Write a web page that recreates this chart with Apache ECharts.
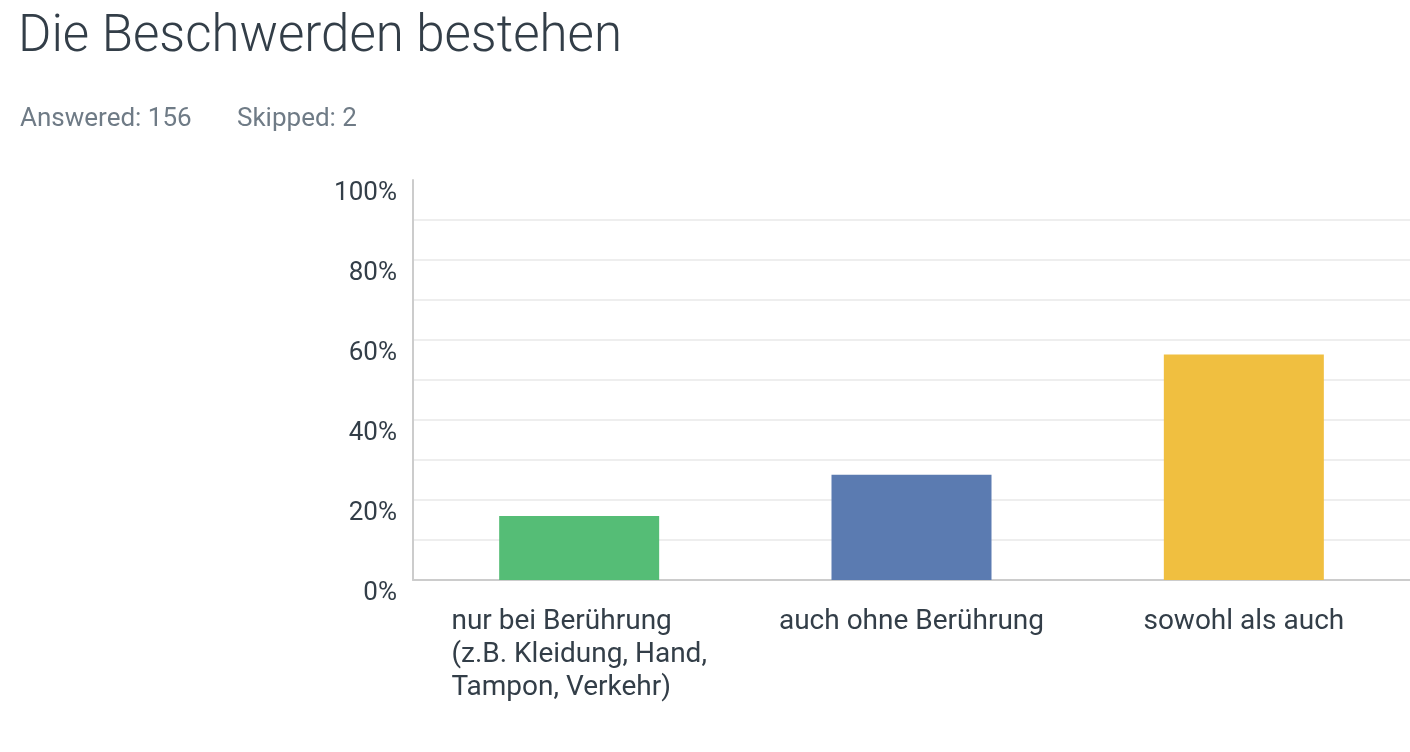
<!DOCTYPE html>
<html>
<head>
<meta charset="utf-8">
<title>Die Beschwerden bestehen</title>
<script src="https://cdn.jsdelivr.net/npm/echarts@6/dist/echarts.min.js"></script>
<style>
  html, body { margin: 0; padding: 0; background: #fff; }
  #chart { width: 1410px; height: 752px; }
</style>
</head>
<body>
<div id="chart"></div>
<script>
// Antwortkategorien und Anteile in %
var categories = [
    'nur bei Berührung\n(z.B. Kleidung, Hand,\nTampon, Verkehr)',
    'auch ohne Berührung',
    'sowohl als auch'
];
var percents = [16.0, 26.3, 56.4];
var barColors = ['#55bd76', '#5b7bb1', '#f0bf40'];
var yTicks = [0, 20, 40, 60, 80, 100];

var textColor = '#333e48';
var font = 'Roboto';

var chart = echarts.init(document.getElementById('chart'));

var option = {
    backgroundColor: '#fff',
    animation: false,
    title: [
        {
            text: 'Die Beschwerden bestehen',
            left: 13,
            top: 8,
            textStyle: {
                fontFamily: font,
                fontWeight: 300,
                fontSize: 51,
                color: textColor
            }
        },
        {
            text: 'Answered: 156',
            left: 15,
            top: 101,
            textStyle: {
                fontFamily: font,
                fontWeight: 'normal',
                fontSize: 26,
                color: '#6f7b86'
            }
        },
        {
            text: 'Skipped: 2',
            left: 232,
            top: 101,
            textStyle: {
                fontFamily: font,
                fontWeight: 'normal',
                fontSize: 26,
                color: '#6f7b86'
            }
        }
    ],
    grid: {
        left: 413,
        right: 0,
        top: 180,
        bottom: 172
    },
    xAxis: {
        type: 'category',
        data: categories,
        axisLine: { lineStyle: { color: '#cccccc', width: 2 } },
        axisTick: { show: false },
        axisLabel: {
            margin: 25,
            interval: 0,
            formatter: function (val) {
                return val.split('\n').map(function (l) { return '{l|' + l + '}'; }).join('\n');
            },
            rich: {
                l: {
                    align: 'left',
                    fontFamily: font,
                    fontSize: 28,
                    lineHeight: 33,
                    color: textColor
                }
            }
        }
    },
    yAxis: {
        type: 'value',
        min: 0,
        max: 100,
        interval: 10,
        axisLine: { show: true, lineStyle: { color: '#cccccc', width: 2 } },
        axisTick: { show: false },
        axisLabel: {
            margin: 16,
            verticalAlign: 'top',
            fontFamily: font,
            fontSize: 26,
            color: textColor,
            formatter: function (v) {
                return yTicks.indexOf(v) >= 0 ? v + '%' : '';
            }
        },
        splitLine: {
            lineStyle: {
                width: 2,
                color: ['#eeeeee', '#eeeeee', '#eeeeee', '#eeeeee', '#eeeeee', '#eeeeee',
                        '#eeeeee', '#eeeeee', '#eeeeee', '#eeeeee', 'rgba(0,0,0,0)']
            }
        }
    },
    series: [
        {
            type: 'bar',
            barWidth: 160,
            data: percents.map(function (v, i) {
                return { value: v, itemStyle: { color: barColors[i] } };
            })
        }
    ]
};

chart.setOption(option);
window.onresize = function () {
    chart.resize();
};
</script>
</body>
</html>
